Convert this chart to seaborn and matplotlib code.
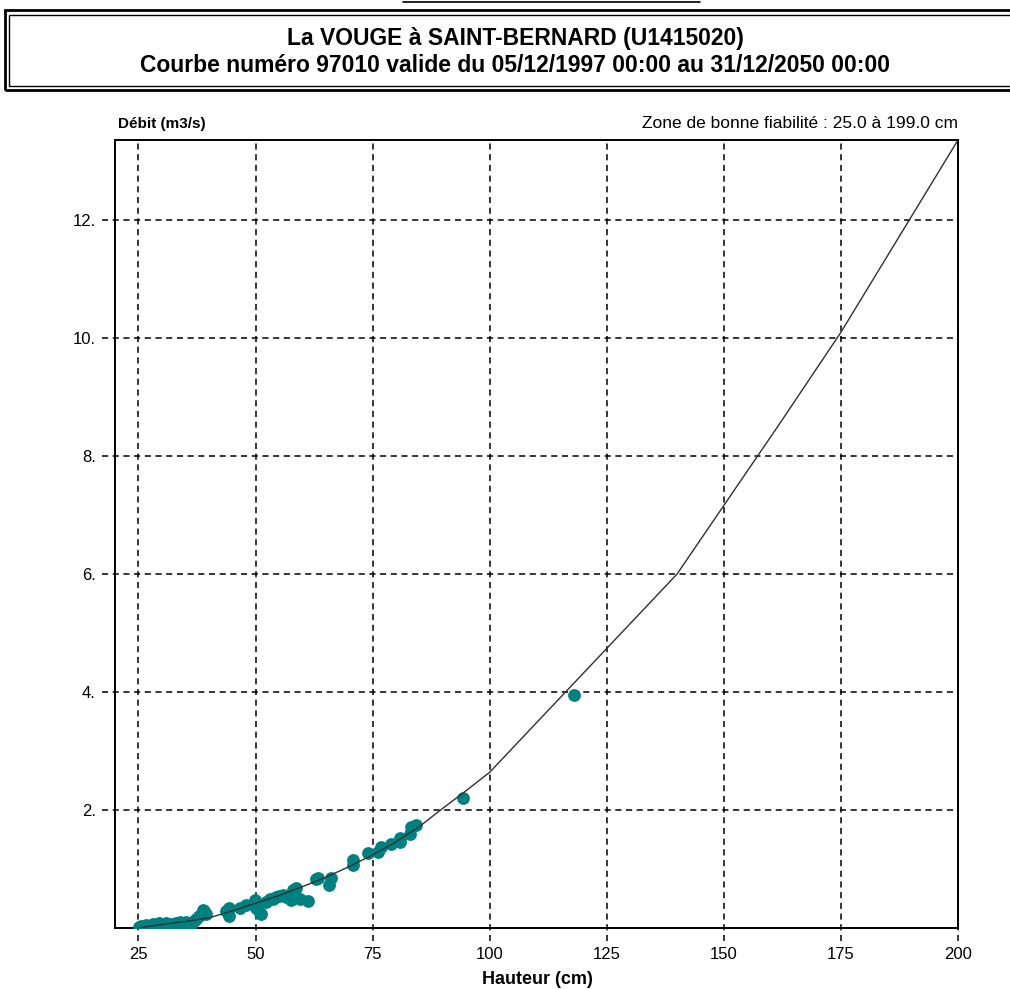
import numpy as np
import pandas as pd
import matplotlib
matplotlib.use("Agg")
import matplotlib.pyplot as plt
from matplotlib.patches import Rectangle
from matplotlib.lines import Line2D
import seaborn as sns

# courbe de tarage (hauteur en cm, debit en m3/s)
courbe_h = [25, 30, 35, 40, 45, 50, 55, 60, 65, 70, 75, 80, 85, 90, 95, 100, 140, 162, 175, 200]
courbe_q = [0.0, 0.06, 0.11, 0.17, 0.29, 0.42, 0.55, 0.70, 0.86, 1.04, 1.24, 1.46, 1.72, 2.03, 2.33,
            2.64, 6.0, 8.56, 10.1, 13.36]

# jaugeages
jaug_h = [25.2, 25.6, 26.6, 27.3, 28.1, 28.8, 29.5, 30.2, 30.9, 31.6, 32.3, 33.0, 33.8, 34.5, 35.2,
          36.3, 36.8, 37.3, 38.0, 38.7, 39.1, 39.5, 43.7, 44.4, 44.4, 46.6, 48.0, 49.8, 50.1, 50.9,
          51.2, 52.3, 53.0, 53.7, 54.4, 55.1, 55.8, 56.6, 57.6, 58.0, 58.7, 59.4, 61.2, 63.0, 63.3,
          65.8, 66.2, 70.8, 70.8, 74.0, 76.1, 76.9, 79.0, 80.8, 80.8, 82.9, 83.3, 84.3, 94.3, 118.0]
jaug_q = [0.02, 0.03, 0.05, 0.04, 0.06, 0.05, 0.09, 0.06, 0.08, 0.07, 0.06, 0.09, 0.10, 0.08, 0.11,
          0.05, 0.12, 0.15, 0.20, 0.30, 0.28, 0.23, 0.28, 0.34, 0.20, 0.34, 0.39, 0.47, 0.34, 0.25,
          0.23, 0.44, 0.50, 0.49, 0.53, 0.55, 0.56, 0.52, 0.47, 0.64, 0.67, 0.49, 0.45, 0.83, 0.84,
          0.73, 0.84, 1.15, 1.07, 1.27, 1.29, 1.38, 1.43, 1.46, 1.52, 1.60, 1.72, 1.75, 2.20, 3.95]

x_ticks = [25, 50, 75, 100, 125, 150, 175, 200]
y_ticks = [2, 4, 6, 8, 10, 12]

df_courbe = pd.DataFrame({"Hauteur": courbe_h, "Debit": courbe_q})
df_jaug = pd.DataFrame({"Hauteur": jaug_h, "Debit": jaug_q})

sns.set_style("white")
plt.rcParams["font.family"] = ["Liberation Sans", "DejaVu Sans"]
plt.rcParams["text.color"] = "black"
plt.rcParams["xtick.color"] = "black"
plt.rcParams["ytick.color"] = "black"

W, H = 1010, 989
fig = plt.figure(figsize=(W / 100, H / 100), dpi=100)

def fx(px):
    return px / W

def fy(py):
    return 1 - py / H

ax = fig.add_axes([fx(115), fy(928), fx(958) - fx(115), fy(140) - fy(928)])

sns.scatterplot(data=df_jaug, x="Hauteur", y="Debit", ax=ax, color="#008080",
                s=85, linewidth=0, zorder=3)
sns.lineplot(data=df_courbe, x="Hauteur", y="Debit", ax=ax, color="#303030",
             linewidth=1.0, estimator=None, sort=False, zorder=4)

ax.set_xlim(20, 200)
ax.set_ylim(0, 13.36)
ax.set_xticks(x_ticks)
ax.set_xticklabels([str(v) for v in x_ticks], fontsize=12)
ax.set_yticks(y_ticks)
ax.set_yticklabels([f"{v}." for v in y_ticks], fontsize=12)
ax.tick_params(axis="both", length=0, pad=14, colors="black")
ax.set_xlabel("")
ax.set_ylabel("")

# grille en tirets qui deborde de l'axe
for xv in x_ticks:
    ax.axvline(xv, ymin=-0.016, ymax=1, color="black", lw=1.1, ls=(0, (4, 3)),
               clip_on=False, zorder=1)
for yv in y_ticks:
    ax.axhline(yv, xmin=-0.015, xmax=1, color="black", lw=1.1, ls=(0, (4, 3)),
               clip_on=False, zorder=1)

for sp in ax.spines.values():
    sp.set_visible(True)
    sp.set_color("black")
    sp.set_linewidth(1.4)

# textes autour du graphique
fig.text(fx(118), fy(124), "Débit (m3/s)", fontsize=11, fontweight="bold", va="center", ha="left")
fig.text(fx(958), fy(124), "Zone de bonne fiabilité : 25.0 à 199.0 cm", fontsize=12.5,
         va="center", ha="right")
fig.text(fx(537), fy(979), "Hauteur (cm)", fontsize=13, fontweight="bold", va="center", ha="center")

# cadre du titre
fig.add_artist(Rectangle((fx(5), fy(90)), fx(1020) - fx(5), fy(10) - fy(90),
                         transform=fig.transFigure, fill=False, lw=2.0, ec="black"))
fig.add_artist(Rectangle((fx(9), fy(86)), fx(1020) - fx(9), fy(15) - fy(86),
                         transform=fig.transFigure, fill=False, lw=1.0, ec="black"))
fig.text(fx(515), fy(39), "La VOUGE à SAINT-BERNARD (U1415020)", fontsize=16.5,
         fontweight="bold", ha="center", va="center")
fig.text(fx(515), fy(66), "Courbe numéro 97010 valide du 05/12/1997 00:00 au 31/12/2050 00:00",
         fontsize=16.5, fontweight="bold", ha="center", va="center")

# trait souligne du haut (texte coupe)
fig.add_artist(Line2D([fx(403), fx(700)], [fy(2), fy(2)], transform=fig.transFigure,
                      color="black", lw=1.2))

plt.savefig("out.png", dpi=100)
